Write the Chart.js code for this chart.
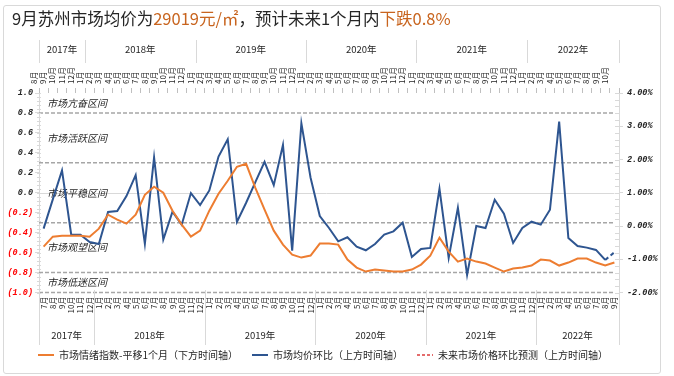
<!DOCTYPE html>
<html>
<head>
<meta charset="utf-8">
<script src="https://cdn.jsdelivr.net/npm/chart.js@4.4.0/dist/chart.umd.min.js"></script>
<style>
html,body{margin:0;padding:0;background:#fff;}
#wrap{position:relative;width:674px;height:376px;overflow:hidden;}
#frame{position:absolute;left:3px;top:5px;width:658px;height:369px;border:1px solid #D9D9D9;border-radius:3px;box-sizing:border-box;pointer-events:none;}
#title{position:absolute;left:12px;top:9px;font-family:"Noto Sans CJK SC";font-size:16.5px;line-height:18px;color:#262626;white-space:nowrap;}
#title .hl{color:#C8641E;}
canvas{position:absolute;left:0;top:0;}
</style>
</head>
<body>
<div id="wrap">
<canvas id="c" width="674" height="376"></canvas>
<div id="frame"></div>
<div id="title">9月苏州市场均价为<span class="hl">29019元/㎡</span>，预计未来1个月内<span class="hl">下跌0.8%</span></div>
</div>
<script>
// ---- categories ----
const bottomMonths = ["7月","8月","9月","10月","11月","12月",
  "1月","2月","3月","4月","5月","6月","7月","8月","9月","10月","11月","12月",
  "1月","2月","3月","4月","5月","6月","7月","8月","9月","10月","11月","12月",
  "1月","2月","3月","4月","5月","6月","7月","8月","9月","10月","11月","12月",
  "1月","2月","3月","4月","5月","6月","7月","8月","9月","10月","11月","12月",
  "1月","2月","3月","4月","5月","6月","7月","8月","9月"];
const topMonths = ["8月","9月","10月","11月","12月",
  "1月","2月","3月","4月","5月","6月","7月","8月","9月","10月","11月","12月",
  "1月","2月","3月","4月","5月","6月","7月","8月","9月","10月","11月","12月",
  "1月","2月","3月","4月","5月","6月","7月","8月","9月","10月","11月","12月",
  "1月","2月","3月","4月","5月","6月","7月","8月","9月","10月","11月","12月",
  "1月","2月","3月","4月","5月","6月","7月","8月","9月","10月"];
const yearNames = ["2017年","2018年","2019年","2020年","2021年","2022年"];
const bottomYearCounts = [6,12,12,12,12,9];
const topYearCounts = [5,12,12,12,12,10];

// ---- series ----
const sentimentIndex = [-0.54,-0.44,-0.43,-0.43,-0.43,-0.44,-0.36,-0.22,-0.27,-0.31,-0.22,
  -0.02,0.06,0.00,-0.18,-0.32,-0.44,-0.38,-0.18,-0.01,0.12,
  0.26,0.29,0.05,-0.17,-0.38,-0.52,-0.62,-0.65,-0.63,-0.51,
  -0.51,-0.52,-0.67,-0.75,-0.79,-0.77,-0.78,-0.79,-0.79,-0.77,
  -0.72,-0.63,-0.45,-0.59,-0.69,-0.66,-0.69,-0.71,-0.75,-0.79,
  -0.76,-0.75,-0.73,-0.67,-0.68,-0.73,-0.70,-0.66,-0.66,-0.70,-0.73,-0.70];
const priceMoM = [-0.08,0.80,1.67,-0.26,-0.26,-0.48,-0.54,0.42,0.45,0.90,1.53,
  -0.54,2.06,-0.41,0.43,0.04,0.99,0.63,1.07,2.09,2.61,
  0.12,0.70,1.32,1.93,1.23,2.44,-0.74,3.09,1.45,0.30,
  -0.06,-0.46,-0.34,-0.62,-0.73,-0.54,-0.26,-0.16,0.10,-0.93,
  -0.69,-0.66,1.12,-0.96,0.55,-1.47,0.00,-0.06,0.79,0.37,
  -0.51,-0.06,0.13,0.04,0.49,3.14,-0.36,-0.60,-0.65,-0.72,-1.02,null];
const forecastMoM = [null,null,null,null,null,null,null,null,null,null,null,
  null,null,null,null,null,null,null,null,null,null,
  null,null,null,null,null,null,null,null,null,null,
  null,null,null,null,null,null,null,null,null,null,
  null,null,null,null,null,null,null,null,null,null,
  null,null,null,null,null,null,null,null,null,null,-1.02,-0.79];

// ---- zones ----
const zoneLines = [0.8,0.3,-0.3,-0.8,-1.0];
const zoneNames = ["市场亢奋区间","市场活跃区间","市场平稳区间","市场观望区间","市场低迷区间"];
const zoneNameAt = [0.9,0.55,0.0,-0.55,-0.9];

const seriesNames = ["市场情绪指数-平移1个月（下方时间轴）","市场均价环比（上方时间轴）","未来市场价格环比预测（上方时间轴）"];

const CJK = '"Noto Sans CJK SC"';
const NUM = '"Liberation Mono"';
const ORANGE = '#ED7D31', BLUE = '#2E5590', RED = '#E46C6C';

function drawYears(ctx, scale, counts, ty, y0, y1){
  const half = (scale.getPixelForValue(1) - scale.getPixelForValue(0)) / 2;
  ctx.save();
  ctx.strokeStyle = '#D9D9D9'; ctx.lineWidth = 1;
  ctx.fillStyle = '#262626';
  ctx.font = '9.5px ' + CJK;
  ctx.textAlign = 'center'; ctx.textBaseline = 'middle';
  let start = 0;
  const vline = x => { const xx = Math.round(x) + 0.5; ctx.beginPath(); ctx.moveTo(xx, y0); ctx.lineTo(xx, y1); ctx.stroke(); };
  vline(scale.getPixelForValue(0) - half);
  counts.forEach((n, k) => {
    const end = start + n - 1;
    const xl = scale.getPixelForValue(start) - half;
    const xr = scale.getPixelForValue(end) + half;
    vline(xr);
    ctx.fillText(yearNames[k], (xl + xr) / 2, ty);
    start += n;
  });
  ctx.restore();
}

const decor = {
  id: 'decor',
  afterLayout(chart){
    if (chart.legend) { chart.legend.left -= 14; chart.legend.right -= 14; }
  },
  beforeDatasetsDraw(chart){
    const {ctx, chartArea: a} = chart;
    const y = chart.scales.y, yr = chart.scales.yr, xb = chart.scales.xb;
    const xEnd = xb.getPixelForValue(bottomMonths.length - 1);
    ctx.save();
    ctx.strokeStyle = '#D9D9D9'; ctx.lineWidth = 1;
    let py = Math.round(y.getPixelForValue(0)) + 0.5;
    ctx.beginPath(); ctx.moveTo(a.left, py); ctx.lineTo(xEnd, py); ctx.stroke();
    ctx.strokeStyle = '#A6A6A6'; ctx.lineWidth = 1.5; ctx.setLineDash([4,2]);
    zoneLines.forEach(v => {
      const p = y.getPixelForValue(v);
      ctx.beginPath(); ctx.moveTo(a.left, p); ctx.lineTo(xEnd, p); ctx.stroke();
    });
    ctx.setLineDash([]);
    ctx.strokeStyle = '#D9D9D9'; ctx.lineWidth = 1;
    for (let k = 0; k <= 50; k++) {
      const v = -1 + k * 0.04;
      const p = Math.round(y.getPixelForValue(v)) + 0.5;
      ctx.beginPath(); ctx.moveTo(a.left - 2, p); ctx.lineTo(a.left + 2, p); ctx.stroke();
    }
    for (let k = 0; k <= 30; k++) {
      const v = -2 + k * 0.2;
      const p = Math.round(yr.getPixelForValue(v)) + 0.5;
      ctx.beginPath(); ctx.moveTo(a.right - 4, p); ctx.lineTo(a.right, p); ctx.stroke();
    }
    ctx.fillStyle = '#262626';
    ctx.font = 'italic 10px ' + CJK;
    ctx.textAlign = 'left'; ctx.textBaseline = 'middle';
    zoneNames.forEach((n, k) => ctx.fillText(n, a.left + 8, y.getPixelForValue(zoneNameAt[k])));
    ctx.restore();
  },
  afterDraw(chart){
    const ctx = chart.ctx;
    drawYears(ctx, chart.scales.xt, topYearCounts, 49, 40, 63);
    drawYears(ctx, chart.scales.xb, bottomYearCounts, 335, 290, 345);
  }
};

const monthTicks = {autoSkip:false, minRotation:90, maxRotation:90, font:{family:CJK, size:8}, color:'#262626'};

new Chart(document.getElementById('c'), {
  type: 'line',
  data: {
    datasets: [
      {label: seriesNames[0], data: sentimentIndex, xAxisID:'xb', yAxisID:'y', borderColor: ORANGE, legendColor: ORANGE, borderWidth: 2, pointRadius: 0, tension: 0},
      {label: seriesNames[1], data: priceMoM, xAxisID:'xt', yAxisID:'yr', borderColor: BLUE, legendColor: BLUE, borderWidth: 2, pointRadius: 0, tension: 0},
      {label: seriesNames[2], data: forecastMoM, xAxisID:'xt', yAxisID:'yr', borderColor: BLUE, legendColor: RED, borderDash:[4,3], borderWidth: 2, pointRadius: 0, tension: 0}
    ]
  },
  options: {
    responsive: false,
    animation: false,
    devicePixelRatio: 1,
    layout: {padding: {left: 0, right: 0, top: 0, bottom: 6}},
    plugins: {
      tooltip: {enabled: false},
      title: {display: false},
      legend: {
        position: 'bottom',
        labels: {
          usePointStyle: true, pointStyle: 'line', pointStyleWidth: 16, padding: 14,
          font: {family: CJK, size: 10}, color: '#262626',
          generateLabels(chart){
            const items = Chart.defaults.plugins.legend.labels.generateLabels(chart);
            items.forEach(it => {
              const ds = chart.data.datasets[it.datasetIndex];
              it.strokeStyle = ds.legendColor; it.fillStyle = ds.legendColor;
              it.lineWidth = 2; it.lineDash = ds.borderDash ? [3,2] : [];
              it.pointStyle = 'line';
            });
            return items;
          }
        }
      }
    },
    scales: {
      xt: {type:'category', position:'top', labels: topMonths, offset: true,
        grid: {display: true, drawOnChartArea: false, drawTicks: true, tickLength: 5, offset: true, color: '#BFBFBF'},
        border: {display: false},
        ticks: Object.assign({padding: 4}, monthTicks),
        afterFit(s){ s.height = 93; }},
      xb: {type:'category', position:'bottom', labels: bottomMonths, offset: true,
        grid: {display: false, drawTicks: false},
        border: {display: false},
        ticks: Object.assign({padding: 4}, monthTicks),
        afterFit(s){ s.height = 43.5; }},
      y: {position:'left', min:-1, max:1,
        grid: {display: true, drawOnChartArea: false, drawTicks: true, tickLength: 4, color: '#D9D9D9'},
        border: {display: true, color: '#D9D9D9'},
        ticks: {stepSize: 0.2, padding: 2,
          font: {family: NUM, size: 8.5, style: 'italic', weight: 'bold'},
          color: c => (c.tick && c.tick.value < -1e-9) ? '#FF0000' : '#262626',
          callback: v => { const t = Math.abs(v).toFixed(1); return v < -1e-9 ? '(' + t + ')' : t; }},
        afterFit(s){ s.width = 39; }},
      yr: {position:'right', min:-2, max:4,
        grid: {display: true, drawOnChartArea: false, drawTicks: true, tickLength: 4, color: '#D9D9D9'},
        border: {display: true, color: '#D9D9D9'},
        ticks: {stepSize: 1, padding: 4,
          font: {family: NUM, size: 8.5, style: 'italic', weight: 'bold'}, color: '#262626',
          callback: v => v.toFixed(2) + '%'},
        afterFit(s){ s.width = 55; }}
    }
  },
  plugins: [decor]
});
</script>
</body>
</html>
